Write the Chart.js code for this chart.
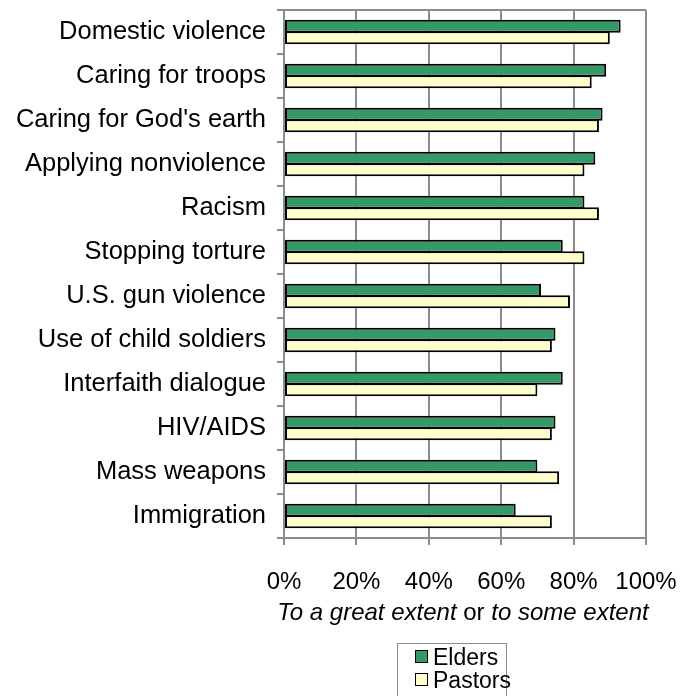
<!DOCTYPE html>
<html>
<head>
<meta charset="utf-8">
<script src="https://cdn.jsdelivr.net/npm/chart.js@4"></script>
<style>
  html, body { margin: 0; padding: 0; background: #fff; }
  #wrap { position: relative; width: 695px; height: 696px; overflow: hidden; font-family: 'Liberation Sans', Arial, sans-serif; }
  #axisTitle { position: absolute; left: 0; width: 926px; top: 598px; text-align: center; font-size: 24px; color: #000; white-space: nowrap; }
  #legendBox { position: absolute; left: 397px; top: 643px; width: 110px; height: 70px; border: 1px solid #8c8c8c; box-sizing: border-box; font-size: 23px; color: #000; }
  .row { position: absolute; left: 17px; height: 23px; line-height: 23px; white-space: nowrap; }
  .swatch { display: inline-block; width: 11px; height: 11px; border: 1px solid #000; margin-right: 5px; vertical-align: 2px; }
</style>
</head>
<body>
<div id="wrap">
  <canvas id="chart"></canvas>
  <div id="axisTitle"><i>To a great extent</i> or <i>to some extent</i></div>
  <div id="legendBox">
    <div class="row" style="top: 2px;"><span class="swatch" style="background:#339966"></span>Elders</div>
    <div class="row" style="top: 25px;"><span class="swatch" style="background:#ffffcc"></span>Pastors</div>
  </div>
</div>
<script>
const categories = [
  'Domestic violence', 'Caring for troops', "Caring for God's earth",
  'Applying nonviolence', 'Racism', 'Stopping torture', 'U.S. gun violence',
  'Use of child soldiers', 'Interfaith dialogue', 'HIV/AIDS', 'Mass weapons',
  'Immigration'
];
const elders  = [93, 89, 88, 86, 83, 77, 71, 75, 77, 75, 70, 64];
const pastors = [90, 85, 87, 83, 87, 83, 79, 74, 70, 74, 76, 74];

const gridGray = '#8c8c8c';

const ctx = document.getElementById('chart').getContext('2d');

new Chart(ctx, {
  type: 'bar',
  data: {
    labels: categories,
    datasets: [{
      label: 'Elders',
      data: elders,
      backgroundColor: '#339966',
      borderColor: '#000',
      borderWidth: 2,
      borderSkipped: false
    }, {
      label: 'Pastors',
      data: pastors,
      backgroundColor: '#ffffcc',
      borderColor: '#000',
      borderWidth: 2,
      borderSkipped: false
    }]
  },
  options: {
    indexAxis: 'y',
    responsive: true,
    maintainAspectRatio: false,
    animation: false,
    datasets: {
      bar: { categoryPercentage: 0.52, barPercentage: 1.15 }
    },
    layout: { padding: { top: 10, right: 49, left: 0, bottom: 0 } },
    plugins: {
      legend: { display: false },
      tooltip: { enabled: false }
    },
    scales: {
      x: {
        min: 0,
        max: 100,
        ticks: {
          stepSize: 20,
          color: '#000',
          padding: 23,
          font: { family: "'Liberation Sans', Arial", size: 24 },
          callback: function(value) { return value + '%'; }
        },
        grid: { color: gridGray, lineWidth: 2, tickLength: 7, tickColor: gridGray },
        border: { color: gridGray, width: 2 },
        afterFit: function(scale) {
          scale.height = 158;
          scale.paddingLeft = 0;
          scale.paddingRight = 0;
        }
      },
      y: {
        ticks: {
          color: '#000',
          padding: 11,
          font: { family: "'Liberation Sans', Arial", size: 25.5 }
        },
        grid: {
          drawOnChartArea: true,
          color: c => c.index === 0 ? gridGray : 'rgba(0,0,0,0)',
          lineWidth: 2,
          tickLength: 7,
          tickColor: gridGray,
          tickWidth: 2
        },
        border: { color: gridGray, width: 2 },
        afterFit: function(scale) {
          scale.width = 284;
          scale.paddingTop = 0;
          scale.paddingBottom = 0;
        }
      }
    }
  }
});
</script>
</body>
</html>
